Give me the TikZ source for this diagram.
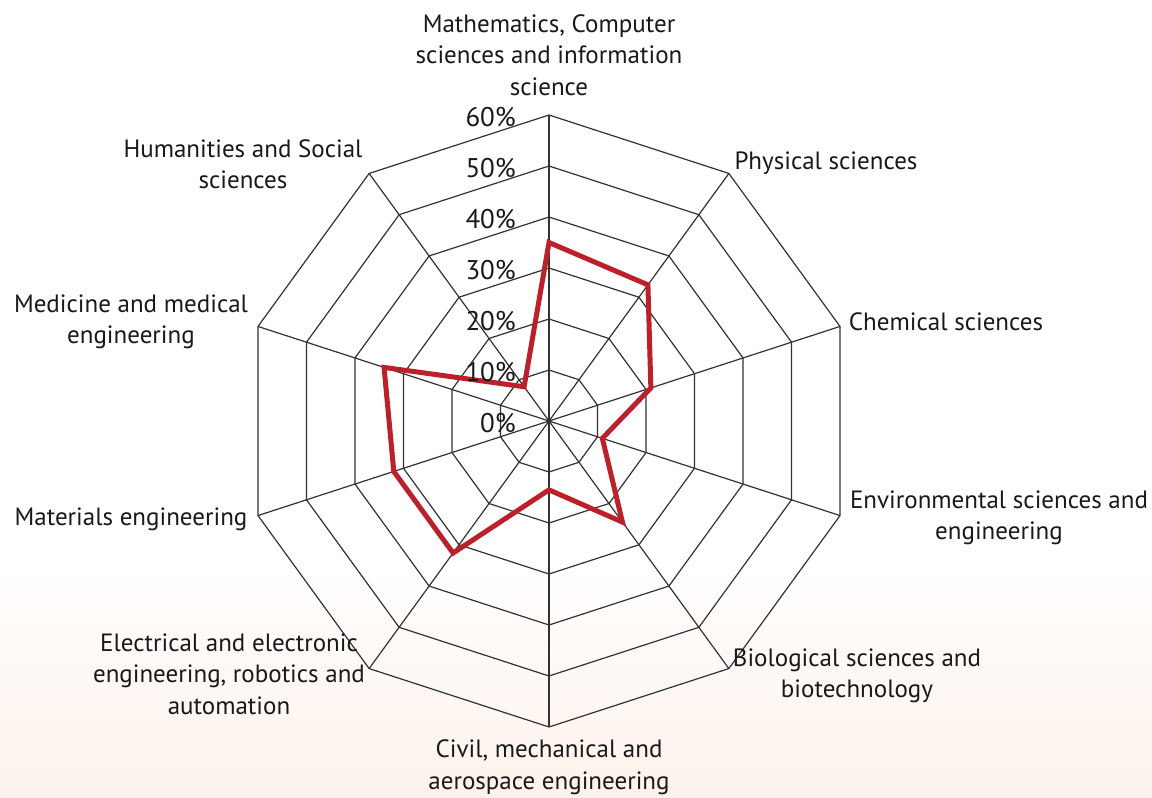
\documentclass[tikz,border=0pt]{standalone}
\usepackage{fontspec}
\setmainfont{PT Sans}
\definecolor{gridc}{RGB}{50,50,50}
\definecolor{serc}{RGB}{188,32,42}
\definecolor{peach}{RGB}{253,242,235}
\definecolor{txt}{RGB}{25,25,25}
\begin{document}
\begin{tikzpicture}[x=1pt,y=-1pt,
  gridline/.style={draw=gridc, line width=1.2pt},
  series/.style={draw=serc, line width=5pt, line join=miter},
  lab/.style={font=\fontsize{25}{31.5}\selectfont, text=txt, align=center, inner sep=0pt},
  pct/.style={font=\fontsize{27}{28}\selectfont, text=txt, anchor=east, inner sep=0pt}]
\useasboundingbox (0,0) rectangle (1152,798);
\fill[white] (0,0) rectangle (1152,798);
\shade[top color=white, bottom color=peach] (0,560) rectangle (1152,798);
% radar grid
\begin{scope}[shift={(549,421)}, yscale=-1]
  \coordinate (O) at (0,0);
  \foreach \k in {1,...,6}{
    \draw[gridline] (90:{\k*51}) \foreach \i in {1,...,9}{ -- ({90-36*\i}:{\k*51}) } -- cycle;
  }
  \foreach \i in {0,...,9}{
    \draw[gridline] (O) -- ({90-36*\i}:306);
  }
  \fill[gridc] (O) circle (2.5);
  % data series
  \draw[series] (90:{35*5.1}) -- (54:{33*5.1}) -- (18:{21*5.1}) -- (-18:{11*5.1})
    -- (-54:{24.5*5.1}) -- (-90:{13.5*5.1}) -- (-126:{32*5.1}) -- (-162:{32*5.1})
    -- (162:{34*5.1}) -- (126:{8.3*5.1}) -- cycle;
\end{scope}
% percentage labels
\node[pct] (p60) at (516,117) {60\%};
\node[pct] (p50) at (516,168) {50\%};
\node[pct] (p40) at (516,219) {40\%};
\node[pct] (p30) at (516,270) {30\%};
\node[pct] (p20) at (516,321) {20\%};
\node[pct] (p10) at (516,372) {10\%};
\node[pct] (p0) at (516,423) {0\%};
% axis labels
\node[lab] (math) at (549,55) {Mathematics, Computer\\sciences and information\\science};
\node[lab] (phys) at (826,163) {Physical sciences};
\node[lab] (chem) at (946,322) {Chemical sciences};
\node[lab] (env) at (999,518) {Environmental sciences and\\engineering};
\node[lab] (bio) at (857,676) {Biological sciences and\\biotechnology};
\node[lab] (civ) at (549,767) {Civil, mechanical and\\aerospace engineering};
\node[lab] (elec) at (229,674) {Electrical and electronic\\engineering, robotics and\\automation};
\node[lab] (mat) at (131,519) {Materials engineering};
\node[lab] (med) at (131,322) {Medicine and medical\\engineering};
\node[lab] (hum) at (243,164) {Humanities and Social\\sciences};
\end{tikzpicture}
\end{document}
